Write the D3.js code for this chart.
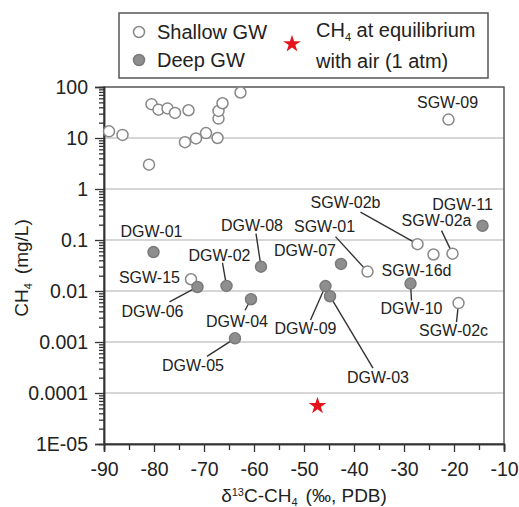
<!DOCTYPE html>
<html>
<head>
<meta charset="utf-8">
<script src="https://cdn.jsdelivr.net/npm/d3@7"></script>
<style>
  body { margin: 0; background: #fff; }
  text { font-family: "Liberation Sans", Arial, sans-serif; fill: #222; }
</style>
</head>
<body>
<div id="chart"></div>
<script>
// shallow groundwater samples
var shallowD13C = [-89, -86.3, -81, -80.5, -79.1, -77.3, -75.8, -73.1, -73.8, -71.6, -69.6, -67.3, -67.1, -67.1, -66.3, -62.7,
                   -21.1, -72.6, -27.3, -24.1, -20.3, -37.3, -19.1];
var shallowCH4 = [13.5, 11.5, 3, 46, 36, 38, 31, 35, 8.3, 9.8, 12.5, 10, 24, 34, 48, 78,
                  23, 0.017, 0.083, 0.052, 0.054, 0.024, 0.0058];
var shallowNames = ["", "", "", "", "", "", "", "", "", "", "", "", "", "", "", "",
                    "SGW-09", "SGW-15", "SGW-02b", "SGW-16d", "SGW-02a", "SGW-01", "SGW-02c"];

// deep groundwater samples
var deepD13C = [-80.1, -71.3, -65.5, -58.6, -60.6, -63.8, -42.6, -45.7, -44.8, -28.7, -14.3];
var deepCH4 = [0.058, 0.012, 0.0126, 0.030, 0.0069, 0.00118, 0.034, 0.0125, 0.0079, 0.014, 0.19];
var deepNames = ["DGW-01", "DGW-06", "DGW-02", "DGW-08", "DGW-04", "DGW-05", "DGW-07", "DGW-09", "DGW-03", "DGW-10", "DGW-11"];

// CH4 at equilibrium with air
var airD13C = [-47.3];
var airCH4 = [0.000056];

var xTicks = [-90, -80, -70, -60, -50, -40, -30, -20, -10];
var yTicks = [100, 10, 1, 0.1, 0.01, 0.001, 0.0001, 0.00001];
var yTickLabels = ["100", "10", "1", "0.1", "0.01", "0.001", "0.0001", "1E-05"];

// label placement (pixel offsets from the point; l = leader start)
var labelLayout = {
  "SGW-09":  { dx: -1,  dy: -17 },
  "SGW-15":  { dx: -11, dy: -2, anchor: "end" },
  "SGW-02b": { dx: -72, dy: -42, lx: -57, ly: -32 },
  "SGW-02a": { dx: -16, dy: -33, lx: -11, ly: -23 },
  "SGW-01":  { dx: -43, dy: -45, lx: -32, ly: -35 },
  "SGW-02c": { dx: -5,  dy: 27,  lx: -2,  ly: 19 },
  "SGW-16d": { dx: -17, dy: 16 },
  "DGW-01":  { dx: -2,  dy: -21 },
  "DGW-06":  { dx: -45, dy: 24,  lx: -28, ly: 15 },
  "DGW-02":  { dx: -7,  dy: -31, lx: -4,  ly: -23 },
  "DGW-08":  { dx: -9,  dy: -41, lx: -5,  ly: -33 },
  "DGW-04":  { dx: -14, dy: 22,  lx: -6,  ly: 11 },
  "DGW-05":  { dx: -42, dy: 27,  lx: -28, ly: 18 },
  "DGW-07":  { dx: -36, dy: -14 },
  "DGW-09":  { dx: -20, dy: 42,  lx: -15, ly: 34 },
  "DGW-03":  { dx: 48,  dy: 81,  lx: 43,  ly: 72 },
  "DGW-10":  { dx: 1,   dy: 25,  lx: 1,   ly: 17 },
  "DGW-11":  { dx: -20, dy: -22 }
};

var width = 519, height = 507;
var margin = { top: 87, right: 15, bottom: 63, left: 104 };
var plotW = width - margin.left - margin.right;
var plotH = height - margin.top - margin.bottom;

var svg = d3.select("#chart").append("svg")
  .attr("width", width)
  .attr("height", height);

var x = d3.scaleLinear().domain([-90, -10]).range([margin.left, margin.left + plotW]);
var y = d3.scaleLog().domain([0.00001, 100]).range([margin.top + plotH, margin.top]);

var shallow = shallowD13C.map(function (d, i) { return { x: d, y: shallowCH4[i], name: shallowNames[i] }; });
var deep = deepD13C.map(function (d, i) { return { x: d, y: deepCH4[i], name: deepNames[i] }; });
var air = airD13C.map(function (d, i) { return { x: d, y: airCH4[i] }; });

// gridlines
svg.append("g").selectAll("line")
  .data(yTicks.slice(1, -1))
  .enter().append("line")
  .attr("x1", margin.left).attr("x2", margin.left + plotW)
  .attr("y1", function (d) { return y(d); }).attr("y2", function (d) { return y(d); })
  .attr("stroke", "#c8c8c8").attr("stroke-width", 1.3);

// frame
svg.append("rect")
  .attr("x", margin.left).attr("y", margin.top)
  .attr("width", plotW).attr("height", plotH)
  .attr("fill", "none").attr("stroke", "#555").attr("stroke-width", 1.5);

// y minor ticks
var yMinor = [];
for (var e = -5; e < 2; e++) {
  for (var m = 2; m <= 9; m++) yMinor.push(m * Math.pow(10, e));
}
var yAxisMinor = d3.axisLeft(y).tickValues(yMinor).tickSize(5).tickFormat("");
var yg1 = svg.append("g").attr("transform", "translate(" + margin.left + ",0)").call(yAxisMinor);

var yAxis = d3.axisLeft(y).tickValues(yTicks).tickSize(9).tickPadding(7)
  .tickFormat(function (d, i) { return yTickLabels[i]; });
var yg2 = svg.append("g").attr("transform", "translate(" + margin.left + ",0)").call(yAxis);

// x ticks
var xMinor = d3.range(-85, -10, 10);
var xAxisMinor = d3.axisBottom(x).tickValues(xMinor).tickSize(6).tickFormat("");
var xg1 = svg.append("g").attr("transform", "translate(0," + (margin.top + plotH) + ")").call(xAxisMinor);
var xAxis = d3.axisBottom(x).tickValues(xTicks).tickSize(8).tickPadding(10).tickFormat(d3.format("d"));
var xg2 = svg.append("g").attr("transform", "translate(0," + (margin.top + plotH) + ")").call(xAxis);

[yg1, yg2, xg1, xg2].forEach(function (g) {
  g.select(".domain").attr("stroke", "#333").attr("stroke-width", 1.5);
  g.selectAll(".tick line").attr("stroke", "#333").attr("stroke-width", 1.3);
  g.selectAll(".tick text").style("font-size", "19.5px").style("font-family", "'Liberation Sans', Arial, sans-serif").attr("fill", "#222");
});
xg2.selectAll(".tick text").text(function (d) { return d3.format("d")(d).replace("\u2212", "-"); });

// leader lines
var all = shallow.concat(deep).filter(function (d) { return d.name && labelLayout[d.name]; });
svg.append("g").selectAll("line")
  .data(all.filter(function (d) { return labelLayout[d.name].lx !== undefined; }))
  .enter().append("line")
  .attr("x1", function (d) { return x(d.x) + labelLayout[d.name].lx; })
  .attr("y1", function (d) { return y(d.y) + labelLayout[d.name].ly; })
  .attr("x2", function (d) { return x(d.x); })
  .attr("y2", function (d) { return y(d.y); })
  .attr("stroke", "#333").attr("stroke-width", 1.4);

// points
svg.append("g").selectAll("circle")
  .data(shallow).enter().append("circle")
  .attr("cx", function (d) { return x(d.x); })
  .attr("cy", function (d) { return y(d.y); })
  .attr("r", 5.5)
  .attr("fill", "#fff").attr("stroke", "#888").attr("stroke-width", 1.5);

svg.append("g").selectAll("circle")
  .data(deep).enter().append("circle")
  .attr("cx", function (d) { return x(d.x); })
  .attr("cy", function (d) { return y(d.y); })
  .attr("r", 5.5)
  .attr("fill", "#8e8e8e").attr("stroke", "#7a7a7a").attr("stroke-width", 1.5);

var star = d3.symbol().type(d3.symbolStar).size(95);
svg.append("g").selectAll("path")
  .data(air).enter().append("path")
  .attr("d", star)
  .attr("transform", function (d) { return "translate(" + x(d.x) + "," + y(d.y) + ")"; })
  .attr("fill", "#e3141b");

// labels
svg.append("g").selectAll("text")
  .data(all).enter().append("text")
  .attr("x", function (d) { return x(d.x) + labelLayout[d.name].dx; })
  .attr("y", function (d) { return y(d.y) + labelLayout[d.name].dy; })
  .attr("dy", "0.36em")
  .attr("text-anchor", function (d) { return labelLayout[d.name].anchor || "middle"; })
  .style("font-size", "16px")
  .text(function (d) { return d.name; });

// axis titles
var xt = svg.append("text")
  .attr("x", 304).attr("y", 502)
  .attr("text-anchor", "middle")
  .style("font-size", "19px");
xt.append("tspan").text("\u03b4");
xt.append("tspan").attr("dy", -6).style("font-size", "11px").text("13");
xt.append("tspan").attr("dy", 6).text("C-CH");
xt.append("tspan").attr("dy", 4).style("font-size", "11px").text("4");
xt.append("tspan").attr("dy", -4).attr("dx", 8).text("(\u2030, PDB)");

var yt = svg.append("text")
  .attr("transform", "translate(28,268) rotate(-90)")
  .attr("text-anchor", "middle")
  .style("font-size", "19px");
yt.append("tspan").text("CH");
yt.append("tspan").attr("dy", 4).style("font-size", "11px").text("4");
yt.append("tspan").attr("dy", -4).attr("dx", 9).text("(mg/L)");

// legend
var lg = svg.append("g");
lg.append("rect")
  .attr("x", 119).attr("y", 13).attr("width", 369).attr("height", 65)
  .attr("fill", "#fff").attr("stroke", "#555").attr("stroke-width", 1.5);
lg.append("circle").attr("cx", 139).attr("cy", 32).attr("r", 5.5)
  .attr("fill", "#fff").attr("stroke", "#888").attr("stroke-width", 1.5);
lg.append("text").attr("x", 157).attr("y", 32).attr("dy", "0.36em").style("font-size", "20px").text("Shallow GW");
lg.append("circle").attr("cx", 139).attr("cy", 60).attr("r", 5.5)
  .attr("fill", "#8e8e8e").attr("stroke", "#7a7a7a").attr("stroke-width", 1.5);
lg.append("text").attr("x", 157).attr("y", 60).attr("dy", "0.36em").style("font-size", "20px").text("Deep GW");
lg.append("path").attr("d", star).attr("transform", "translate(292,44)").attr("fill", "#e3141b");
var l1 = lg.append("text").attr("x", 316).attr("y", 30).attr("dy", "0.36em").style("font-size", "20px");
l1.append("tspan").text("CH");
l1.append("tspan").attr("dy", 4).style("font-size", "11px").text("4");
l1.append("tspan").attr("dy", -4).text(" at equilibrium");
lg.append("text").attr("x", 316).attr("y", 61).attr("dy", "0.36em").style("font-size", "20px").text("with air (1 atm)");
</script>
</body>
</html>
